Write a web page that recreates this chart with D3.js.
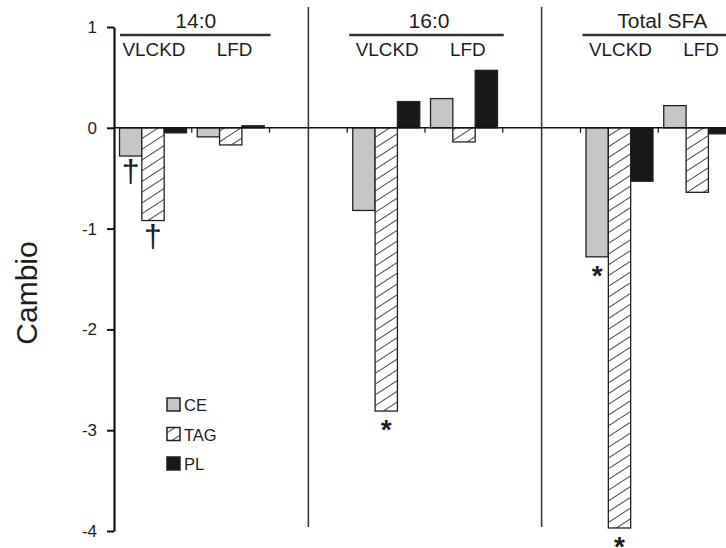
<!DOCTYPE html>
<html>
<head>
<meta charset="utf-8">
<script src="https://cdn.jsdelivr.net/npm/d3@7"></script>
<style>
  body { margin: 0; background: #fff; }
  svg { display: block; }
  text { font-family: "Liberation Sans", Arial, Helvetica, sans-serif; fill: #1e1e1e; }
</style>
</head>
<body>
<svg id="chart" width="726" height="548"></svg>
<script>
// ---- data ----
const panels = ["14:0", "16:0", "Total SFA"];
const diets = ["VLCKD", "LFD"];
const series = ["CE", "TAG", "PL"];
const ceValues  = [-0.28, -0.09, -0.82, 0.29, -1.28, 0.22];
const tagValues = [-0.92, -0.17, -2.81, -0.14, -3.97, -0.64];
const plValues  = [-0.05, 0.02, 0.26, 0.57, -0.53, -0.06];
const yTicks = [1, 0, -1, -2, -3, -4];
const yLabel = "Cambio";
// significance marks: [group index, series, symbol]
const marks = [
  [0, "CE", "\u2020"], [0, "TAG", "\u2020"],
  [2, "TAG", "*"],
  [4, "CE", "*"], [4, "TAG", "*"]
];

// ---- build ----
const groups = [];
panels.forEach((p, pi) => diets.forEach((d, di) => groups.push({ panel: p, pi, diet: d, key: p + "|" + d })));
const valuesBySeries = { CE: ceValues, TAG: tagValues, PL: plValues };

// slots: groups interleaved with gaps between panels
const slots = [];
groups.forEach((g, i) => {
  if (i > 0 && i % 2 === 0) slots.push("gap" + i);
  slots.push(g.key);
});

const svg = d3.select("#chart");
const x = d3.scaleBand().domain(slots).range([114, 736]).paddingInner(0).paddingOuter(0);
const xi = d3.scaleBand().domain(series).range([5.5, 72.5]).padding(0);
const y = d3.scaleLinear().domain([-4, 1]).range([531, 27]);

// hatch pattern
const defs = svg.append("defs");
const pat = defs.append("pattern").attr("id", "hatch")
  .attr("patternUnits", "userSpaceOnUse").attr("width", 9).attr("height", 9)
  .attr("patternTransform", "rotate(-33)");
pat.append("rect").attr("width", 9).attr("height", 9).attr("fill", "#fff");
pat.append("line").attr("x1", 0).attr("x2", 9).attr("y1", 4.5).attr("y2", 4.5)
  .attr("stroke", "#4a4a4a").attr("stroke-width", 1);

const fills = { CE: "#c6c6c6", TAG: "url(#hatch)", PL: "#181818" };

// panel separators
const gapSlots = slots.filter(s => s.startsWith("gap"));
svg.append("g").selectAll("line").data(gapSlots).join("line")
  .attr("x1", d => x(d) + x.bandwidth() / 2).attr("x2", d => x(d) + x.bandwidth() / 2)
  .attr("y1", 7).attr("y2", 527)
  .attr("stroke", "#3a3a3a").attr("stroke-width", 1.6);

// bars
const barData = [];
groups.forEach((g, gi) => series.forEach(s => barData.push({ g, gi, s, v: valuesBySeries[s][gi] })));
svg.append("g").selectAll("rect").data(barData).join("rect")
  .attr("x", d => x(d.g.key) + xi(d.s))
  .attr("width", xi.bandwidth())
  .attr("y", d => Math.min(y(d.v), y(0)))
  .attr("height", d => Math.max(Math.abs(y(d.v) - y(0)), 1))
  .attr("fill", d => fills[d.s])
  .attr("stroke", "#222").attr("stroke-width", 1.3);

// zero line
svg.append("line").attr("x1", 114).attr("x2", 726).attr("y1", y(0)).attr("y2", y(0))
  .attr("stroke", "#111").attr("stroke-width", 1.6);

// group boundary ticks below zero line
const boundaries = [];
slots.forEach((s, i) => { if (i > 0) boundaries.push(x(s)); });
svg.append("g").selectAll("line").data(boundaries).join("line")
  .attr("x1", d => d).attr("x2", d => d)
  .attr("y1", y(0)).attr("y2", y(0) + 5)
  .attr("stroke", "#222").attr("stroke-width", 1.3);

// y axis
const axis = d3.axisLeft(y).tickValues(yTicks).tickSize(7).tickPadding(10).tickSizeOuter(0)
  .tickFormat(d => String(d));
const ag = svg.append("g").attr("transform", "translate(114,0)").call(axis);
ag.select(".domain").attr("stroke", "#111").attr("stroke-width", 2.2);
ag.selectAll(".tick line").attr("stroke", "#111").attr("stroke-width", 2);
ag.selectAll(".tick text").attr("font-size", 17).attr("fill", "#1e1e1e")
  .attr("font-family", "Liberation Sans, Arial, sans-serif");

// y label
svg.append("text").attr("transform", "translate(37,293) rotate(-90)")
  .attr("text-anchor", "middle").attr("font-size", 30).text(yLabel);

// panel headers
panels.forEach((p, pi) => {
  const g0 = groups[pi * 2], g1 = groups[pi * 2 + 1];
  const x0 = x(g0.key), x1 = x(g1.key) + x.bandwidth();
  svg.append("text")
    .attr("transform", `translate(${(x0 + x1) / 2 + 4},28) scale(1.08,1)`)
    .attr("text-anchor", "middle").attr("font-size", 19.5).text(p);
  svg.append("line").attr("x1", x0 + (pi === 0 ? 6 : 2)).attr("x2", x1 + 1)
    .attr("y1", 35).attr("y2", 35).attr("stroke", "#333").attr("stroke-width", 2.6);
  [g0, g1].forEach((g, k) => {
    svg.append("text")
      .attr("transform", `translate(${x(g.key) + x.bandwidth() / 2 + (k === 0 ? 1 : 4)},56) scale(1.05,1)`)
      .attr("text-anchor", "middle").attr("font-size", 18).text(g.diet);
  });
});

// significance marks
svg.append("g").selectAll("text").data(marks).join("text")
  .attr("x", d => x(groups[d[0]].key) + xi(d[1]) + xi.bandwidth() / 2)
  .attr("y", d => y(valuesBySeries[d[1]][d[0]]) + (d[2] === "*" ? 28 : 26))
  .attr("text-anchor", "middle")
  .attr("font-size", d => d[2] === "*" ? 28 : 32)
  .attr("font-weight", d => d[2] === "*" ? "bold" : "normal")
  .attr("fill", d => d[2] === "*" ? "#1e1e1e" : "#3a3a3a")
  .text(d => d[2]);

// legend
const lg = svg.append("g").selectAll("g").data(series).join("g")
  .attr("transform", (d, i) => `translate(167,${398 + i * 29.5})`);
lg.append("rect").attr("width", 13).attr("height", 13)
  .attr("fill", d => fills[d]).attr("stroke", "#222").attr("stroke-width", 1.5);
lg.append("text").attr("x", 17).attr("y", 13).attr("font-size", 16.5).text(d => d);
</script>
</body>
</html>
